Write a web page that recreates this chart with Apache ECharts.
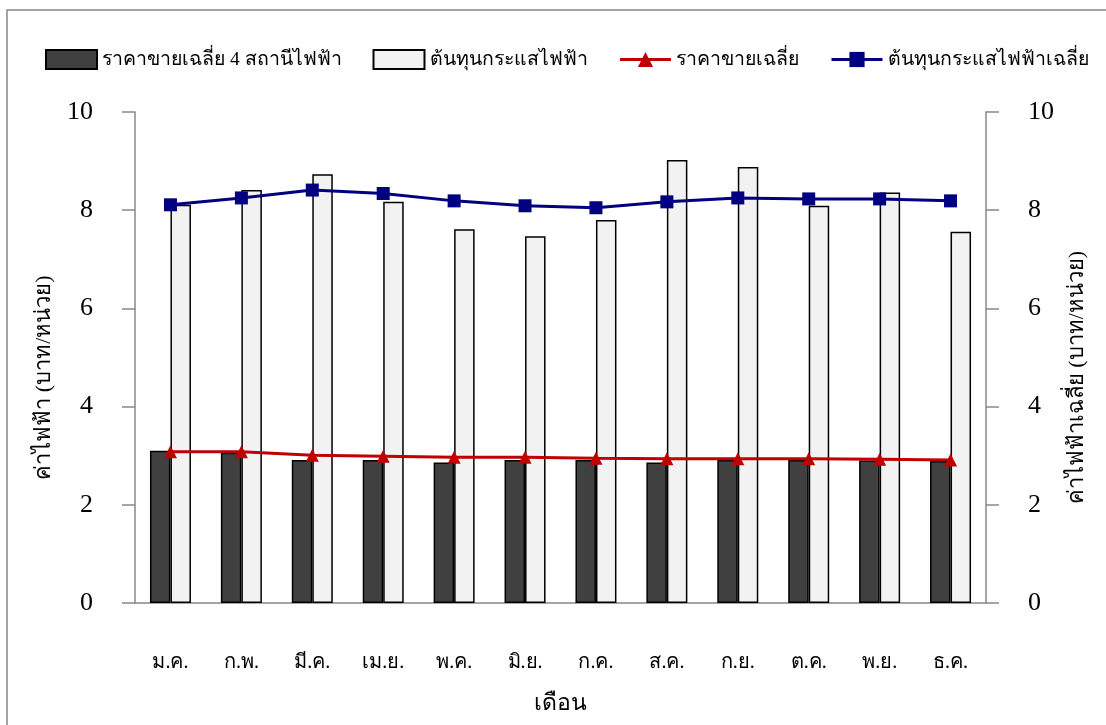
<!DOCTYPE html>
<html><head><meta charset="utf-8">
<script src="https://cdn.jsdelivr.net/npm/echarts@6/dist/echarts.min.js"></script>
<style>html,body{margin:0;padding:0;background:#fff}#c{width:1106px;height:725px}</style>
</head><body><div id="c"></div>
<script>
const months = ['ม.ค.','ก.พ.','มี.ค.','เม.ย.','พ.ค.','มิ.ย.','ก.ค.','ส.ค.','ก.ย.','ต.ค.','พ.ย.','ธ.ค.'];
const seriesNames = ['ราคาขายเฉลี่ย 4 สถานีไฟฟ้า','ต้นทุนกระแสไฟฟ้า','ราคาขายเฉลี่ย','ต้นทุนกระแสไฟฟ้าเฉลี่ย'];
const sellPrice4 = [3.10,3.06,2.91,2.91,2.86,2.91,2.91,2.86,2.91,2.91,2.90,2.89];
const costPower = [8.11,8.41,8.73,8.17,7.61,7.47,7.80,9.02,8.88,8.09,8.36,7.56];
const avgSell = [3.08,3.08,3.01,2.99,2.97,2.97,2.95,2.94,2.94,2.94,2.93,2.91];
const avgCost = [8.11,8.25,8.41,8.34,8.19,8.09,8.05,8.17,8.25,8.23,8.23,8.19];
const yTicks = [0,2,4,6,8,10];

const FONT = "'Liberation Serif', serif";
const chart = echarts.init(document.getElementById('c'), null, {renderer:'canvas'});
const axisLine = {show:true, lineStyle:{color:'#888', width:1.5}};
function yAxis(pos, name){
  return {
    type:'value', position:pos, min:yTicks[0], max:yTicks[yTicks.length-1], interval:2,
    name:name, nameLocation:'middle', nameRotate:90, nameGap:80,
    nameTextStyle:{fontFamily:FONT, fontSize:22, color:'#000', padding:[0,40,0,0]},
    axisLine:axisLine, axisTick:{show:true, inside:false, length:13, lineStyle:{color:'#888', width:1.5}},
    axisLabel:{margin:42, fontFamily:FONT, fontSize:26, color:'#000'},
    splitLine:{show:false}
  };
}
chart.setOption({
  animation:false,
  backgroundColor:'#fff',
  graphic:[{type:'rect', shape:{x:7, y:10, width:1120, height:740}, style:{fill:'none', stroke:'#888', lineWidth:1.5}, silent:true}],
  legend:{
    top:44, left:40, itemGap:31, itemWidth:51, itemHeight:19,
    textStyle:{fontFamily:FONT, fontSize:19.5, color:'#000'},
    data:[
      {name:seriesNames[0], icon:'rect'},
      {name:seriesNames[1], icon:'rect'},
      {name:seriesNames[2], lineStyle:{width:3}},
      {name:seriesNames[3], lineStyle:{width:3}}
    ]
  },
  grid:{left:135, right:120, top:112, bottom:122, containLabel:false},
  xAxis:{
    type:'category', data:months,
    name:'เดือน', nameLocation:'middle', nameGap:89,
    nameTextStyle:{fontFamily:FONT, fontSize:23, color:'#000'},
    axisLine:axisLine, axisTick:{show:false},
    axisLabel:{margin:50, fontFamily:FONT, fontSize:20, color:'#000'}
  },
  yAxis:[yAxis('left','ค่าไฟฟ้า (บาท/หน่วย)'), yAxis('right','ค่าไฟฟ้าเฉลี่ย (บาท/หน่วย)')],
  series:[
    {name:seriesNames[0], type:'bar', data:sellPrice4, barWidth:20.5, barGap:'0%',
     itemStyle:{color:'#404040', borderColor:'#000', borderWidth:1.5}},
    {name:seriesNames[1], type:'bar', data:costPower, barWidth:20.5, barGap:'0%',
     itemStyle:{color:'#f2f2f2', borderColor:'#000', borderWidth:1.5}},
    {name:seriesNames[2], type:'line', data:avgSell, symbol:'triangle', symbolSize:13,
     lineStyle:{color:'#c00000', width:3}, itemStyle:{color:'#c00000'}},
    {name:seriesNames[3], type:'line', yAxisIndex:1, data:avgCost, symbol:'rect', symbolSize:13,
     lineStyle:{color:'#000080', width:3}, itemStyle:{color:'#000080'}}
  ]
});
</script></body></html>
